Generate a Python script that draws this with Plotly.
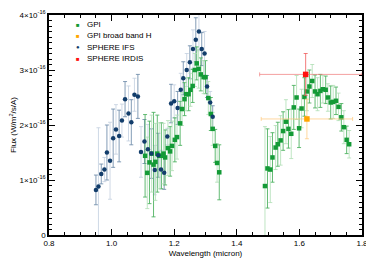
import plotly.graph_objects as go

SCALE = 1e-16

# SPHERE IFS (blue)
ifs_wl = [0.950, 0.958, 0.967, 0.977, 0.985, 0.995, 1.005, 1.014, 1.024, 1.033,
          1.043, 1.054, 1.063, 1.073, 1.084, 1.094, 1.105, 1.116, 1.127, 1.138,
          1.149, 1.158, 1.168, 1.178, 1.190, 1.200, 1.211, 1.221, 1.229, 1.240,
          1.250, 1.260, 1.269, 1.279, 1.288, 1.297, 1.305, 1.315, 1.323]
ifs_flux = [0.82, 0.88, 1.11, 1.19, 1.50, 1.35, 1.76, 1.92, 1.80, 2.08,
            2.47, 2.21, 2.05, 2.55, 2.52, 1.51, 1.70, 1.56, 1.48, 1.18,
            1.45, 1.19, 1.13, 1.79, 2.39, 2.43, 2.31, 2.64, 2.85, 3.00,
            3.14, 3.38, 3.55, 3.70, 3.38, 3.30, 2.70, 2.41, 2.15]
ifs_err = [0.27, 1.07, 0.18, 0.22, 0.50, 0.70, 0.53, 0.45, 0.47, 0.30,
           0.32, 0.50, 0.41, 0.30, 0.40, 0.46, 0.40, 0.45, 0.45, 0.45,
           0.40, 0.35, 0.30, 0.15, 0.35, 0.30, 0.30, 0.30, 0.30, 0.30,
           0.30, 0.35, 0.40, 0.35, 0.30, 0.40, 0.20, 0.20, 0.20]

# GPI (green) J and H band
gpi_wl = [1.107, 1.114, 1.121, 1.128, 1.134, 1.140, 1.146, 1.152, 1.159, 1.166,
          1.171, 1.180, 1.187, 1.193, 1.202, 1.209, 1.219, 1.225, 1.233, 1.238,
          1.246, 1.252, 1.259, 1.266, 1.272, 1.278, 1.285, 1.294, 1.300, 1.309,
          1.317, 1.323, 1.331, 1.337, 1.344,
          1.490, 1.498, 1.507, 1.514, 1.524, 1.531, 1.540, 1.548, 1.557, 1.565,
          1.574, 1.582, 1.591, 1.599, 1.607, 1.616, 1.624, 1.632, 1.641, 1.650,
          1.658, 1.667, 1.675, 1.684, 1.691, 1.700, 1.708, 1.717, 1.725, 1.734,
          1.742, 1.751, 1.759]
gpi_flux = [1.44, 1.13, 1.32, 1.48, 1.28, 1.33, 1.48, 1.44, 1.44, 1.48,
            1.41, 1.58, 1.52, 1.62, 1.73, 1.78, 2.03, 2.29, 2.47, 2.56,
            2.56, 2.64, 2.71, 3.00, 3.12, 3.02, 2.92, 2.87, 2.87, 2.49,
            2.20, 1.93, 1.62, 1.31, 1.14,
            0.89, 1.21, 1.19, 1.41, 1.59, 1.65, 1.72, 1.89, 2.06, 1.93,
            1.84, 2.32, 2.50, 1.94, 2.30, 2.51, 2.61, 2.70, 2.80, 2.61,
            2.56, 2.62, 2.65, 2.64, 2.50, 2.41, 2.42, 2.44, 2.33, 2.14,
            1.96, 1.73, 1.65]
gpi_err = [0.75, 0.65, 0.75, 0.70, 0.95, 0.70, 0.70, 0.60, 0.60, 0.55,
           0.50, 0.50, 0.45, 0.45, 0.40, 0.40, 0.40, 0.30, 0.30, 0.30,
           0.30, 0.30, 0.30, 0.30, 0.30, 0.35, 0.30, 0.30, 0.30, 0.30,
           0.30, 0.30, 0.30, 0.35, 0.50,
           1.08, 0.72, 0.60, 0.45, 0.40, 0.40, 0.45, 0.35, 0.40, 0.35,
           0.45, 0.40, 0.40, 0.35, 0.35, 0.35, 0.35, 0.30, 0.30, 0.30,
           0.30, 0.30, 0.25, 0.25, 0.25, 0.30, 0.30, 0.25, 0.25, 0.25,
           0.30, 0.25, 0.25]

# GPI broad band H (orange)
bbh_wl = [1.624]
bbh_flux = [2.11]
bbh_err = [0.36]
bbh_wl_err = [0.146]

# SPHERE IRDIS (red)
irdis_wl = [1.620]
irdis_flux = [2.92]
irdis_err = [0.38]
irdis_wl_err_minus = [0.147]
irdis_wl_err_plus = [0.18]

# legend entries
legend_names = ["GPI", "GPI broad band H", "SPHERE IFS", "SPHERE IRDIS"]
legend_symbols = ["■", "■", "●", "■"]
legend_colors = ["#139a36", "#ffa500", "#123d6b", "#ff1010"]

fig = go.Figure()


def err_traces(wl, flux, err, dark, light):
    for parity, col in ((0, dark), (1, light)):
        idx = [i for i in range(len(wl)) if i % 2 == parity]
        fig.add_trace(go.Scatter(
            x=[wl[i] for i in idx], y=[flux[i] * SCALE for i in idx],
            mode="markers", marker=dict(opacity=0, size=1),
            error_y=dict(type="data", array=[err[i] * SCALE for i in idx],
                         color=col, thickness=1, width=2),
            showlegend=False, hoverinfo="skip"))


err_traces(ifs_wl, ifs_flux, ifs_err, "rgba(110,140,170,0.85)", "rgba(195,208,224,0.8)")
err_traces(gpi_wl, gpi_flux, gpi_err, "rgba(70,175,90,0.85)", "rgba(175,222,180,0.8)")

fig.add_trace(go.Scatter(
    x=gpi_wl, y=[v * SCALE for v in gpi_flux], mode="markers", name="GPI",
    marker=dict(symbol="square", size=4.5, color=legend_colors[0]), showlegend=False))
fig.add_trace(go.Scatter(
    x=ifs_wl, y=[v * SCALE for v in ifs_flux], mode="markers", name="SPHERE IFS",
    marker=dict(symbol="circle", size=4.5, color=legend_colors[2]), showlegend=False))
fig.add_trace(go.Scatter(
    x=bbh_wl, y=[v * SCALE for v in bbh_flux], mode="markers", name="GPI broad band H",
    marker=dict(symbol="square", size=5.5, color=legend_colors[1]),
    error_y=dict(type="data", array=[e * SCALE for e in bbh_err],
                 color="rgba(255,200,120,0.7)", thickness=1, width=2),
    error_x=dict(type="data", array=bbh_wl_err,
                 color="rgba(255,200,120,0.7)", thickness=1, width=2),
    showlegend=False))
fig.add_trace(go.Scatter(
    x=irdis_wl, y=[v * SCALE for v in irdis_flux], mode="markers", name="SPHERE IRDIS",
    marker=dict(symbol="square", size=5.5, color=legend_colors[3]),
    error_y=dict(type="data", array=[e * SCALE for e in irdis_err],
                 color="rgba(240,90,90,0.8)", thickness=1, width=2),
    error_x=dict(type="data", symmetric=False, array=irdis_wl_err_plus,
                 arrayminus=irdis_wl_err_minus,
                 color="rgba(240,120,120,0.7)", thickness=1, width=2),
    showlegend=False))

# manual legend
annotations = []
row_y = [0.955, 0.905, 0.853, 0.801]
for name, sym, col, yy in zip(legend_names, legend_symbols, legend_colors, row_y):
    annotations.append(dict(x=0.093, y=yy, xref="paper", yref="paper", text=sym,
                            showarrow=False, xanchor="center", yanchor="middle",
                            font=dict(size=6, color=col)))
    annotations.append(dict(x=0.115, y=yy, xref="paper", yref="paper", text=name,
                            showarrow=False, xanchor="left", yanchor="middle",
                            font=dict(size=8, color="black")))

yt = [0, 1, 2, 3, 4]
yt_text = ["0"] + [f"{v}×10<sup>-16</sup>" for v in yt[1:]]
y_minor = [i * 0.1 * SCALE for i in range(41) if i % 10 != 0]
x_minor = [0.8 + i * 0.05 for i in range(21) if i % 4 != 0]

font = dict(family="Liberation Sans, Arial, sans-serif", size=8, color="black")

# the page body adds an 8px offset; margins compensate for it
fig.update_layout(
    width=374, height=267,
    margin=dict(l=41, r=20, t=7, b=40),
    paper_bgcolor="white", plot_bgcolor="white",
    font=font,
    showlegend=False,
    annotations=annotations,
    xaxis=dict(range=[0.8, 1.8], tickmode="array",
               tickvals=[0.8, 1.0, 1.2, 1.4, 1.6, 1.8],
               ticktext=["0.8", "1.0", "1.2", "1.4", "1.6", "1.8"],
               ticks="inside", ticklen=6, tickwidth=1.2, tickcolor="black",
               showline=True, linecolor="black", linewidth=1.5, mirror="ticks",
               showgrid=False, zeroline=False, automargin=False,
               tickfont=dict(size=8),
               minor=dict(tickmode="array", tickvals=x_minor, ticks="inside",
                          ticklen=3, tickwidth=1, tickcolor="black", showgrid=False),
               title=dict(text="Wavelength (micron)", standoff=3, font=dict(size=8))),
    yaxis=dict(range=[0, 4 * SCALE], tickmode="array",
               tickvals=[v * SCALE for v in yt], ticktext=yt_text,
               ticks="inside", ticklen=6, tickwidth=1.2, tickcolor="black",
               showline=True, linecolor="black", linewidth=1.5, mirror="ticks",
               showgrid=False, zeroline=False, automargin=False,
               tickfont=dict(size=8),
               minor=dict(tickmode="array", tickvals=y_minor, ticks="inside",
                          ticklen=3, tickwidth=1, tickcolor="black", showgrid=False),
               title=dict(text="Flux (W/m<sup>2</sup>/s/A)", standoff=4, font=dict(size=8))),
)

fig.write_html("out.html")
